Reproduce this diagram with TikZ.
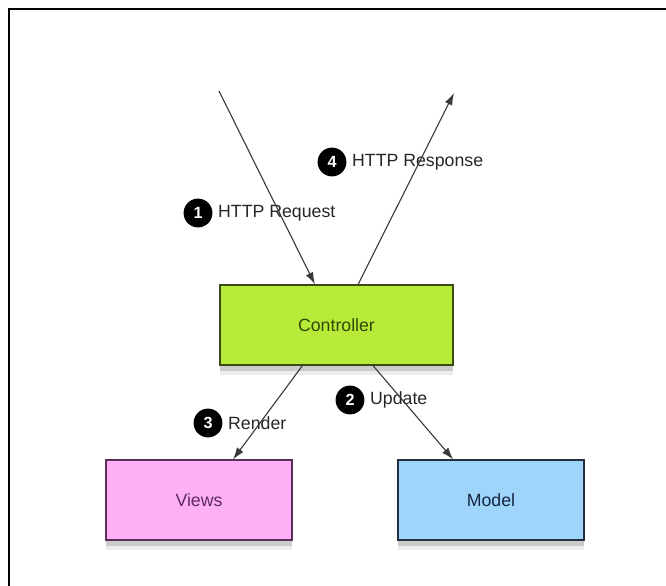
\documentclass[tikz,border=0pt]{standalone}
\usepackage{fontspec}
\setmainfont{Liberation Sans}
\usepackage{xcolor}
\usepackage{tikz}
\usetikzlibrary{calc, positioning, arrows.meta, shadows}
\definecolor{ctrlFill}{HTML}{B8EA3A}
\definecolor{ctrlLine}{HTML}{3A4A12}
\definecolor{ctrlText}{HTML}{2E4A05}
\definecolor{viewFill}{HTML}{FDB0F6}
\definecolor{viewLine}{HTML}{5A2E58}
\definecolor{viewText}{HTML}{5C2A5E}
\definecolor{modelFill}{HTML}{9FD5FA}
\definecolor{modelLine}{HTML}{22303F}
\definecolor{modelText}{HTML}{142640}
\definecolor{wire}{HTML}{3A3A3A}
\tikzset{
    part/.style={rectangle, thick, minimum height=2cm, align=center, font=\fontsize{12.6}{14}\selectfont,
        drop shadow={shadow xshift=0pt, shadow yshift=-7pt, opacity=0.12, fill=black!60},
        drop shadow={shadow xshift=0pt, shadow yshift=-4pt, opacity=0.25, fill=black!60}},
    ctrl/.style={part, draw=ctrlLine, fill=ctrlFill, text=ctrlText, minimum width=5.825cm},
    view/.style={part, draw=viewLine, fill=viewFill, text=viewText, minimum width=4.65cm},
    model/.style={part, draw=modelLine, fill=modelFill, text=modelText, minimum width=4.65cm},
    num/.style={circle, fill=black, text=white, inner sep=0pt, minimum size=0.72cm, font=\fontsize{11.5}{12}\selectfont\bfseries},
    tag/.style={inner sep=0pt, text=black!85, font=\fontsize{12.6}{14}\selectfont, right=0.13cm of #1},
    arrow/.style={-{Latex[length=0.3cm, width=0.2cm]}, draw=wire, line width=0.8pt},
    frame/.style={line width=1.4pt, draw=black}
}
\begin{document}
\begin{tikzpicture}[x=0.025cm, y=-0.025cm]
        \useasboundingbox (0,0) rectangle (666,586);
        \draw[frame] (9,586) |- (666,9);

        % Boxes
        \node[ctrl] (Controller) at (336.5,325) {Controller};
        \node[view] (Views) at (199,500) {Views};
        \node[model] (Model) at (491,500) {Model};

        % Outside ends
        \coordinate (Client) at (219,91);
        \coordinate (Browser) at (454,93);

        % Step labels
        \node[num] (One) at (198,213) {1};
        \node[tag=One] (Request) {HTTP Request};
        \node[num] (Two) at (350,400) {2};
        \node[tag=Two] (Update) {Update};
        \node[num] (Three) at (208,423) {3};
        \node[tag=Three] (Render) {Render};
        \node[num] (Four) at (332,162) {4};
        \node[tag=Four] (Response) {HTTP Response};

        % Connections
        \draw[arrow] (Client) -- (Controller.118);
        \draw[arrow] (Controller.-48) -- (Model.133);
        \draw[arrow] (Controller.230) -- (Views.50);
        \draw[arrow] (Controller.62) -- (Browser);

    \end{tikzpicture}
\end{document}
